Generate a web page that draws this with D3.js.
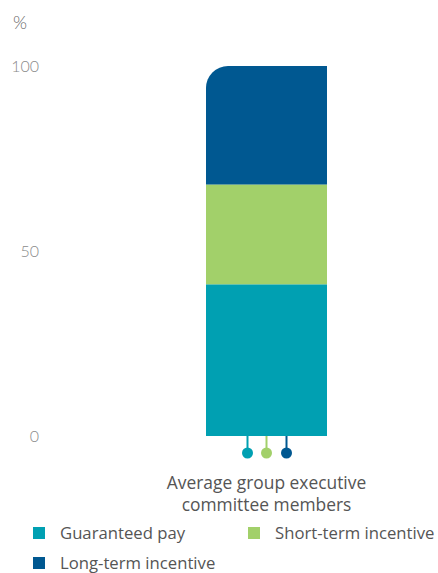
<!DOCTYPE html>
<html><head><meta charset="utf-8">
<script src="https://cdn.jsdelivr.net/npm/d3@7"></script>
<style>body{margin:0;background:#fff;}svg{display:block;font-family:"Open Sans",Lato,sans-serif;}</style>
</head><body>
<svg id="c" width="438" height="573"></svg>
<script>
const categories = ["Average group executive committee members"];
const categoryLines = [["Average group executive", "committee members"]];
const seriesNames = ["Guaranteed pay", "Short-term incentive", "Long-term incentive"];
const seriesColors = ["#00a0b2", "#a2d06a", "#005891"];
const guaranteed = [41];
const shortTerm = [27];
const longTerm = [32];
const yTicks = [0, 50, 100];

const svg = d3.select("#c");
const y = d3.scaleLinear().domain([0, 100]).range([436, 66]);
const x = d3.scaleBand().domain(categories).range([206, 327]).padding(0);

const data = categories.map((c, i) => ({cat: c, v: [guaranteed[i], shortTerm[i], longTerm[i]]}));

// y axis labels
const yAxis = d3.axisLeft(y).tickValues(yTicks).tickSize(0).tickPadding(0);
const ga = svg.append("g").attr("transform", "translate(39,0)").call(yAxis);
ga.select(".domain").remove();
ga.selectAll("text").attr("font-size", 16).attr("fill", "#8a8a8a").attr("font-weight", 300).attr("font-family", "Lato,sans-serif");

svg.append("text").attr("x", 13).attr("y", 29).text("%").attr("font-size", 18).attr("fill", "#666").attr("font-weight", 300).attr("font-family", "Lato,sans-serif");

// bars
data.forEach(d => {
  let base = 0;
  d.v.forEach((v, k) => {
    const y0 = y(base), y1 = y(base + v);
    const x0 = x(d.cat), w = x.bandwidth();
    if (k === d.v.length - 1) {
      const r = 22;
      const p = d3.path();
      p.moveTo(x0, y0);
      p.lineTo(x0, y1 + r);
      p.arcTo(x0, y1, x0 + r, y1, r);
      p.lineTo(x0 + w, y1);
      p.lineTo(x0 + w, y0);
      p.closePath();
      svg.append("path").attr("d", p.toString()).attr("fill", seriesColors[k]);
    } else {
      svg.append("rect").attr("x", x0).attr("y", y1).attr("width", w).attr("height", y0 - y1).attr("fill", seriesColors[k]);
    }
    base += v;
  });
  // lollipops
  const cx = x(d.cat) + x.bandwidth() / 2;
  const offs = [-19, 0, 20];
  offs.forEach((o, k) => {
    svg.append("line").attr("x1", cx + o).attr("x2", cx + o).attr("y1", y(0)).attr("y2", 453)
      .attr("stroke", seriesColors[k]).attr("stroke-width", 2);
    svg.append("circle").attr("cx", cx + o).attr("cy", 453).attr("r", 5.5).attr("fill", seriesColors[k]);
  });
  const t = svg.append("text").attr("x", cx).attr("text-anchor", "middle").attr("font-size", 17.4).attr("fill", "#555").attr("font-weight", 400);
  categoryLines[0].forEach((ln, j) => t.append("tspan").attr("x", cx).attr("y", 489 + j * 22).text(ln));
});

// legend
const legPos = [[33, 533], [248, 533], [33, 563]];
seriesNames.forEach((n, k) => {
  const g = svg.append("g").attr("transform", `translate(${legPos[k][0]},${legPos[k][1]})`);
  g.append("rect").attr("x", 0).attr("y", -6).attr("width", 12).attr("height", 12).attr("fill", seriesColors[k]);
  g.append("text").attr("x", 27).attr("y", 6).attr("font-size", 16.7).attr("fill", "#555").text(n);
});
</script>
</body></html>
